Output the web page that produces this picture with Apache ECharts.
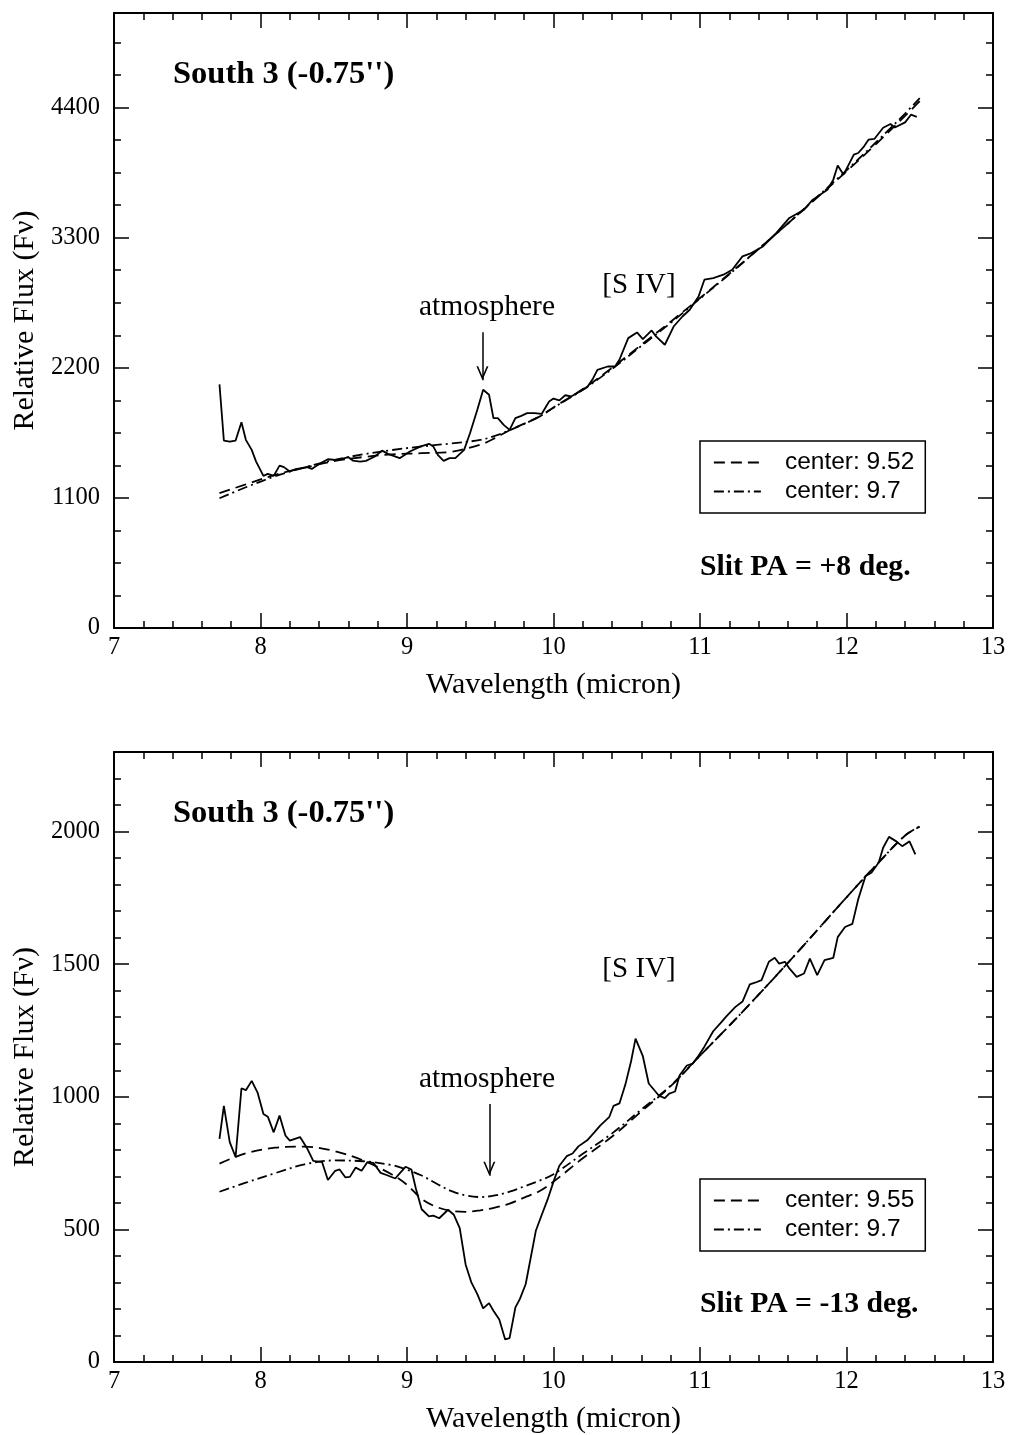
<!DOCTYPE html>
<html>
<head>
<meta charset="utf-8">
<script src="https://cdn.jsdelivr.net/npm/echarts@6/dist/echarts.min.js"></script>
<style>
html,body{margin:0;padding:0;background:#fff;}
#chart{width:1010px;height:1435px;}
</style>
</head>
<body>
<div id="chart"></div>
<script>
// ---------- tick labels ----------
const xTickLabels = [7, 8, 9, 10, 11, 12, 13];
const yTickLabelsTop = [0, 1100, 2200, 3300, 4400];
const yTickLabelsBottom = [0, 500, 1000, 1500, 2000];

// ---------- top panel (Slit PA = +8 deg.) ----------
const topObsX = [7.72,7.75,7.79,7.83,7.87,7.90,7.94,7.97,8.02,8.05,8.09,8.13,8.16,8.20,8.24,8.28,8.32,8.35,8.39,8.46,8.51,8.55,8.60,8.63,8.68,8.72,8.78,8.83,8.87,8.95,9.02,9.09,9.15,9.18,9.21,9.25,9.29,9.33,9.39,9.43,9.48,9.52,9.56,9.59,9.62,9.66,9.70,9.74,9.78,9.82,9.87,9.92,9.97,10.00,10.04,10.08,10.12,10.18,10.23,10.27,10.30,10.37,10.42,10.45,10.51,10.57,10.61,10.67,10.70,10.76,10.82,10.88,10.93,10.99,11.03,11.09,11.16,11.22,11.29,11.35,11.43,11.52,11.61,11.71,11.77,11.87,11.91,11.94,11.98,12.05,12.08,12.12,12.15,12.19,12.25,12.30,12.33,12.40,12.44,12.48];
const topObsY = [2060,1585,1576,1585,1740,1591,1506,1407,1286,1303,1286,1373,1360,1323,1343,1351,1360,1345,1379,1427,1421,1427,1444,1416,1407,1413,1450,1500,1472,1436,1492,1534,1557,1534,1464,1413,1436,1436,1506,1647,1845,2014,1972,1774,1774,1718,1675,1774,1794,1817,1817,1811,1915,1940,1925,1968,1958,2000,2035,2110,2183,2211,2211,2268,2451,2499,2443,2516,2465,2395,2549,2634,2691,2803,2945,2959,2987,3029,3142,3170,3226,3339,3467,3537,3622,3706,3791,3910,3833,4002,4016,4073,4129,4135,4230,4262,4232,4275,4340,4322];

const topFitX = [7.72,7.9,8.1,8.3,8.5,8.7,8.9,9.1,9.3,9.5,9.6,9.7,9.9,10.0,10.2,10.4,10.6,10.8,11.0,11.2,11.4,11.6,11.8,12.0,12.2,12.4,12.5];
const topFitAY = [1140,1215,1295,1355,1410,1445,1468,1478,1490,1550,1605,1672,1785,1865,2020,2200,2395,2590,2790,2995,3205,3420,3640,3861,4090,4330,4455];
const topFitBY = [1097,1190,1283,1358,1420,1468,1505,1535,1560,1590,1625,1672,1785,1862,2015,2190,2385,2580,2785,2990,3205,3420,3645,3870,4105,4350,4480];

// ---------- bottom panel (Slit PA = -13 deg.) ----------
const botObsX = [7.72,7.75,7.79,7.83,7.87,7.90,7.94,7.98,8.02,8.05,8.09,8.13,8.17,8.20,8.27,8.32,8.36,8.42,8.46,8.51,8.54,8.58,8.61,8.65,8.69,8.73,8.77,8.82,8.86,8.92,8.95,8.99,9.03,9.06,9.10,9.15,9.18,9.22,9.28,9.32,9.36,9.40,9.44,9.48,9.52,9.56,9.59,9.63,9.67,9.70,9.74,9.77,9.81,9.84,9.88,9.92,9.96,10.00,10.04,10.09,10.13,10.17,10.23,10.28,10.32,10.38,10.41,10.45,10.49,10.53,10.56,10.61,10.65,10.72,10.76,10.79,10.83,10.86,10.91,10.95,10.99,11.03,11.09,11.14,11.18,11.24,11.29,11.34,11.38,11.42,11.47,11.51,11.54,11.58,11.61,11.66,11.71,11.75,11.80,11.85,11.91,11.94,11.99,12.04,12.08,12.13,12.17,12.22,12.25,12.29,12.34,12.38,12.43,12.47];
const botObsY = [841,966,829,773,1032,1025,1060,1016,935,925,866,929,854,835,848,804,758,754,686,721,726,696,698,733,721,754,751,713,705,692,711,736,726,655,576,549,552,542,574,555,505,368,299,256,202,222,193,160,85,90,206,237,293,380,496,555,613,680,740,776,786,813,836,867,892,923,966,975,1045,1135,1219,1153,1050,1004,995,1012,1020,1080,1118,1125,1155,1189,1247,1278,1303,1338,1359,1424,1431,1440,1509,1524,1502,1509,1484,1452,1465,1521,1459,1515,1524,1602,1640,1652,1745,1833,1845,1883,1939,1980,1963,1945,1963,1914];

const botFitX = [7.72,7.9,8.1,8.3,8.5,8.7,8.9,9.0,9.1,9.2,9.3,9.4,9.5,9.6,9.7,9.8,9.9,10.0,10.2,10.4,10.6,10.8,11.0,11.2,11.4,11.6,11.8,12.0,12.2,12.4,12.5];
const botFitAY = [748,787,808,812,796,760,706,668,615,585,570,566,572,582,597,620,643,680,768,850,945,1040,1155,1268,1385,1505,1628,1752,1872,1985,2018];
const botFitBY = [642,676,712,745,760,757,742,725,703,673,645,628,622,628,642,662,683,708,785,862,952,1042,1155,1268,1385,1505,1628,1752,1872,1985,2020];

// ---------- helpers ----------
const zip = (xs, ys) => xs.map((x, i) => [x, ys[i]]);
const BLACK = '#000';
const SERIF = 'Liberation Serif';
const SANS = 'Liberation Sans';
const arrowHead = 'path://M5,0L5.01,0L5,0Z M5,13L10.6,26L9,26L5,16.6L1,26L-0.6,26Z';

function xAxis(gridIndex, position, withLabels) {
  return {
    type: 'value', gridIndex, position, min: 7, max: 13, interval: 1,
    axisLine: { show: true, onZero: false, lineStyle: { color: BLACK, width: 2 } },
    axisTick: { show: true, inside: true, length: 15, lineStyle: { color: BLACK, width: 1.5 } },
    minorTick: { show: true, splitNumber: 5, length: 7, lineStyle: { color: BLACK, width: 1.5 } },
    splitLine: { show: false }, minorSplitLine: { show: false },
    axisLabel: {
      show: withLabels, margin: 7, color: BLACK, fontFamily: SERIF, fontSize: 24.5,
      formatter: v => (xTickLabels.indexOf(v) >= 0 ? String(v) : '')
    },
    name: withLabels ? 'Wavelength (micron)' : '',
    nameLocation: 'middle', nameGap: 42,
    nameTextStyle: { color: BLACK, fontFamily: SERIF, fontSize: 30 }
  };
}
function yAxis(gridIndex, position, withLabels, max, interval, split, labels) {
  return {
    type: 'value', gridIndex, position, min: 0, max, interval,
    axisLine: { show: true, onZero: false, lineStyle: { color: BLACK, width: 2 } },
    axisTick: { show: true, inside: true, length: 15, lineStyle: { color: BLACK, width: 1.5 } },
    minorTick: { show: true, splitNumber: split, length: 7, lineStyle: { color: BLACK, width: 1.5 } },
    splitLine: { show: false }, minorSplitLine: { show: false },
    axisLabel: {
      show: withLabels, margin: 14, color: BLACK, fontFamily: SERIF, fontSize: 24.5,
      formatter: v => (labels.indexOf(v) >= 0 ? String(v) : '')
    },
    name: withLabels ? 'Relative Flux (F\u03bd)' : '',
    nameLocation: 'middle', nameGap: 73,
    nameTextStyle: { color: BLACK, fontFamily: SERIF, fontSize: 30 }
  };
}
function obsSeries(name, xi, yi, data, arrowX, arrowFrom, arrowTo) {
  return {
    name, type: 'line', xAxisIndex: xi, yAxisIndex: yi, data,
    symbol: 'none', smooth: false, z: 3,
    lineStyle: { color: BLACK, width: 1.8 },
    markLine: {
      silent: true, symbol: ['none', arrowHead], symbolSize: [12, 28],
      label: { show: false }, emphasis: { disabled: true },
      lineStyle: { color: BLACK, width: 1.5, type: 'solid' },
      data: [[{ coord: [arrowX, arrowFrom] }, { coord: [arrowX, arrowTo] }]]
    }
  };
}
function fitSeries(name, xi, yi, data, dash) {
  return {
    name, type: 'line', xAxisIndex: xi, yAxisIndex: yi, data,
    symbol: 'none', showSymbol: false, smooth: 0.35, z: 2,
    lineStyle: { color: BLACK, width: 1.8, type: dash },
    itemStyle: { color: BLACK }
  };
}
function legendBox(top, names) {
  return {
    data: names, orient: 'vertical', left: 700, top,
    selectedMode: false, itemWidth: 47, itemHeight: 14, itemGap: 4,
    padding: [9, 11, 9, 13],
    borderColor: BLACK, borderWidth: 1.5, backgroundColor: '#fff',
    itemStyle: { opacity: 0, borderWidth: 0 },
    lineStyle: { color: BLACK, width: 1.8 },
    textStyle: { color: BLACK, fontFamily: SANS, fontSize: 24.5, padding: [0, 0, 0, 19] }
  };
}
function label(x, y, text, size, bold, align) {
  return {
    type: 'text', x, y, silent: true,
    style: {
      text, fill: BLACK, fontFamily: SERIF, fontSize: size,
      fontWeight: bold ? 'bold' : 'normal',
      align: align || 'left', verticalAlign: 'middle'
    }
  };
}

const DASH = [11, 6];
const DASHDOT = [10, 4, 2, 4];

const option = {
  animation: false,
  backgroundColor: '#fff',
  grid: [
    { left: 114, top: 13, width: 879, height: 615, containLabel: false },
    { left: 114, top: 752, width: 879, height: 615, containLabel: false }
  ],
  xAxis: [
    xAxis(0, 'bottom', true), xAxis(0, 'top', false),
    xAxis(1, 'bottom', true), xAxis(1, 'top', false)
  ],
  yAxis: [
    yAxis(0, 'left', true, 5200, 1100, 4, yTickLabelsTop),
    yAxis(0, 'right', false, 5200, 1100, 4, yTickLabelsTop),
    yAxis(1, 'left', true, 2300, 500, 5, yTickLabelsBottom),
    yAxis(1, 'right', false, 2300, 500, 5, yTickLabelsBottom)
  ],
  legend: [
    legendBox(441, ['center: 9.52', 'center: 9.7']),
    legendBox(1179, ['center: 9.55', 'center: 9.7'])
  ],
  series: [
    obsSeries('South 3 spectrum (PA +8)', 0, 0, zip(topObsX, topObsY), 9.515, 2500, 2095),
    fitSeries('center: 9.52', 0, 0, zip(topFitX, topFitAY), DASH),
    fitSeries('center: 9.7', 0, 0, zip(topFitX, topFitBY), DASHDOT),
    obsSeries('South 3 spectrum (PA -13)', 2, 2, zip(botObsX, botObsY), 9.562, 973, 702),
    fitSeries('center: 9.55', 2, 2, zip(botFitX, botFitAY), DASH),
    fitSeries('center: 9.7', 2, 2, zip(botFitX, botFitBY), DASHDOT)
  ],
  graphic: [
    label(173, 75, "South 3 (-0.75'')", 32.5, true),
    label(487, 307, 'atmosphere', 29.5, false, 'center'),
    label(639, 285, '[S IV]', 29, false, 'center'),
    label(700, 567, 'Slit PA = +8 deg.', 29.7, true),
    label(173, 814, "South 3 (-0.75'')", 32.5, true),
    label(487, 1079, 'atmosphere', 29.5, false, 'center'),
    label(639, 969, '[S IV]', 29, false, 'center'),
    label(700, 1304, 'Slit PA = -13 deg.', 29.7, true)
  ]
};

const chart = echarts.init(document.getElementById('chart'), null, { renderer: 'canvas' });
chart.setOption(option);
</script>
</body>
</html>
